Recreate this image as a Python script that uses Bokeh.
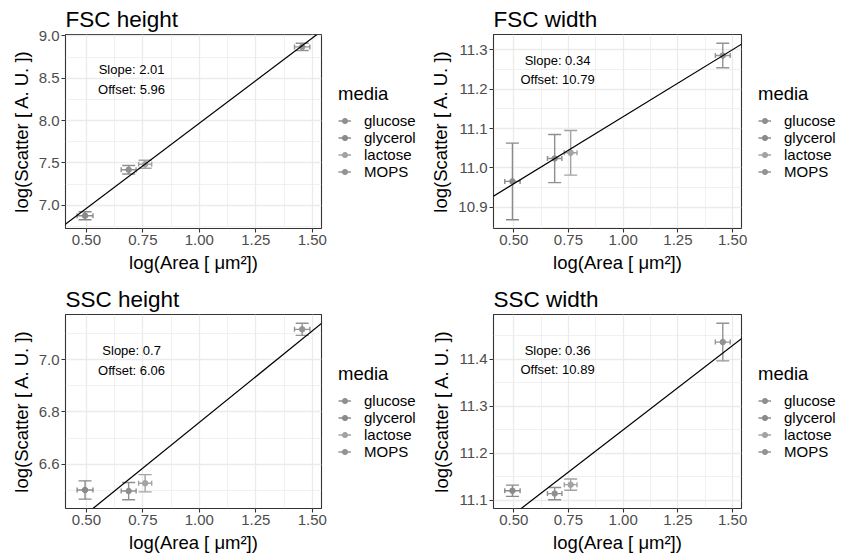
import math
from bokeh.plotting import figure
from bokeh.models import (Range1d, FixedTicker, Slope, Label, Legend, LegendItem,
                          ColumnDataSource, PrintfTickFormatter)
from bokeh.layouts import column, row
from bokeh.embed import file_html
from bokeh.resources import INLINE

FONT = "Liberation Sans"

# ---------------- data ----------------
media = ["glucose", "glycerol", "lactose", "MOPS"]
media_colors = ["#8F8F8F", "#8A8A8A", "#A3A3A3", "#939393"]
point_media = ["glycerol", "glucose", "lactose", "MOPS"]

area = [0.494, 0.687, 0.760, 1.455]
area_err = [0.035, 0.033, 0.029, 0.034]

fsc_h = [6.878, 7.420, 7.485, 8.870]
fsc_h_err = [0.047, 0.050, 0.047, 0.042]
fsc_w = [10.966, 11.024, 11.0385, 11.285]
fsc_w_err = [0.097, 0.061, 0.0565, 0.031]
ssc_h = [6.501, 6.497, 6.527, 7.116]
ssc_h_err = [0.035, 0.033, 0.033, 0.023]
ssc_w = [11.120, 11.114, 11.133, 11.437]
ssc_w_err = [0.012, 0.013, 0.012, 0.040]

titles = ["FSC height", "FSC width", "SSC height", "SSC width"]
slopes = [2.01, 0.34, 0.7, 0.36]
offsets = [5.96, 10.79, 6.06, 10.89]

x_ticks = [0.50, 0.75, 1.00, 1.25, 1.50]
y_ticks = [[7.0, 7.5, 8.0, 8.5, 9.0],
           [10.9, 11.0, 11.1, 11.2, 11.3],
           [6.6, 6.8, 7.0],
           [11.1, 11.2, 11.3, 11.4]]
y_formats = ["%.1f", "%.1f", "%.1f", "%.1f"]

# annotation label y positions (data units) for "Slope" / "Offset" text
slope_label_y = [8.60, 11.272, 7.035, 11.419]
offset_label_y = [8.37, 11.224, 6.959, 11.379]
label_x = 0.70

x_label = "log(Area [ \u03bcm\u00b2])"
y_label = "log(Scatter [ A. U. ])"
legend_title = "media"


def expand(lo, hi, f=0.05):
    d = hi - lo
    return lo - f * d, hi + f * d


def minor_of(ticks, lo, hi):
    step = ticks[1] - ticks[0]
    out = []
    t = ticks[0] - step / 2
    while t <= hi:
        if t >= lo:
            out.append(round(t, 6))
        t += step
    return out


def make_panel(i, yvals, yerr, width, height, left, right, top, bottom):
    xlo, xhi = expand(min(a - e for a, e in zip(area, area_err)),
                      max(a + e for a, e in zip(area, area_err)))
    ylo, yhi = expand(min(v - e for v, e in zip(yvals, yerr)),
                      max(v + e for v, e in zip(yvals, yerr)))
    p = figure(width=width, height=height, output_backend="svg", toolbar_location=None,
               x_range=Range1d(xlo, xhi), y_range=Range1d(ylo, yhi),
               min_border_left=left, min_border_right=right,
               min_border_top=top, min_border_bottom=bottom)
    p.background_fill_color = "white"
    p.border_fill_color = "white"
    p.outline_line_color = "#333333"
    p.outline_line_width = 1.1

    p.title.text = titles[i]
    p.title.text_font = FONT
    p.title.text_font_size = "22.5px"
    p.title.text_font_style = "normal"
    p.title.text_color = "black"
    p.title.standoff = 6

    p.xaxis.ticker = FixedTicker(ticks=x_ticks, minor_ticks=minor_of(x_ticks, xlo, xhi))
    p.yaxis.ticker = FixedTicker(ticks=y_ticks[i], minor_ticks=minor_of(y_ticks[i], ylo, yhi))
    p.xaxis.formatter = PrintfTickFormatter(format="%.2f")
    p.yaxis.formatter = PrintfTickFormatter(format=y_formats[i])
    for ax in (p.xaxis, p.yaxis):
        ax.axis_line_color = None
        ax.major_tick_line_color = "#333333"
        ax.major_tick_line_width = 1.1
        ax.major_tick_out = 4
        ax.major_tick_in = 0
        ax.minor_tick_line_color = None
        ax.major_label_text_font = FONT
        ax.major_label_text_font_size = "15px"
        ax.major_label_text_color = "#4D4D4D"
        ax.major_label_standoff = 2
        ax.axis_label_text_font = FONT
        ax.axis_label_text_font_size = "18.5px"
        ax.axis_label_text_font_style = "normal"
        ax.axis_label_text_color = "black"
        ax.axis_label_standoff = 4
    p.xaxis.axis_label = x_label
    p.yaxis.axis_label = y_label

    for g in (p.xgrid, p.ygrid):
        g.grid_line_color = "#EBEBEB"
        g.grid_line_width = 1.3
        g.minor_grid_line_color = "#EBEBEB"
        g.minor_grid_line_width = 0.7

    cols = [media_colors[media.index(m)] for m in point_media]
    src = ColumnDataSource(dict(
        x=area, y=yvals, c=cols,
        ylo=[v - e for v, e in zip(yvals, yerr)],
        yhi=[v + e for v, e in zip(yvals, yerr)],
        xlo=[a - e for a, e in zip(area, area_err)],
        xhi=[a + e for a, e in zip(area, area_err)],
    ))
    lw = 1.4
    # vertical error bars
    p.segment(x0="x", y0="ylo", x1="x", y1="yhi", source=src, line_color="c", line_width=lw)
    p.scatter(x="x", y="ylo", source=src, marker="dash", size=13, line_color="c", line_width=lw)
    p.scatter(x="x", y="yhi", source=src, marker="dash", size=13, line_color="c", line_width=lw)
    # horizontal error bars
    p.segment(x0="xlo", y0="y", x1="xhi", y1="y", source=src, line_color="c", line_width=lw)
    p.scatter(x="xlo", y="y", source=src, marker="dash", angle=math.pi / 2, size=5,
              line_color="c", line_width=lw)
    p.scatter(x="xhi", y="y", source=src, marker="dash", angle=math.pi / 2, size=5,
              line_color="c", line_width=lw)
    # points
    p.scatter(x="x", y="y", source=src, size=5.5, fill_color="c", line_color="c")

    # fitted line
    p.add_layout(Slope(gradient=slopes[i], y_intercept=offsets[i],
                       line_color="black", line_width=1.2))

    for txt, yy in ((f"Slope: {slopes[i]}", slope_label_y[i]),
                    (f"Offset: {offsets[i]}", offset_label_y[i])):
        p.add_layout(Label(x=label_x, y=yy, text=txt, text_align="center",
                           text_baseline="middle", text_font=FONT,
                           text_font_size="13px", text_color="black"))
    return p


def make_legend_fig(width, height, bottom):
    f = figure(width=width, height=height, output_backend="svg", toolbar_location=None,
               x_range=Range1d(0, 1), y_range=Range1d(0, 1),
               min_border_left=0, min_border_right=0, min_border_top=0,
               min_border_bottom=bottom)
    f.axis.visible = False
    f.grid.visible = False
    f.outline_line_color = None
    f.background_fill_color = "white"
    f.border_fill_color = "white"
    items = []
    for m, c in zip(media, media_colors):
        # key-only renderers: their points lie outside the visible range
        ks = ColumnDataSource(dict(x=[5.0, 6.0], y=[5.0, 6.0]))
        rl = f.line(x="x", y="y", source=ks, line_color=c, line_width=1.4)
        rp = f.scatter(x="x", y="y", source=ks, size=5, fill_color=c, line_color=c)
        items.append(LegendItem(label=m, renderers=[rl, rp]))
    leg = Legend(items=items, title=legend_title, location="center_left",
                 title_text_font=FONT, title_text_font_size="18.5px",
                 title_text_font_style="normal", title_text_color="black",
                 title_standoff=7,
                 label_text_font=FONT, label_text_font_size="15px",
                 label_text_color="black",
                 glyph_width=13, glyph_height=16, label_height=16,
                 label_standoff=13, spacing=0, padding=0, margin=7,
                 border_line_color=None, background_fill_alpha=0)
    f.add_layout(leg)
    return f


p1 = make_panel(0, fsc_h, fsc_h_err, 331, 280, 65, 10, 34, 52)
l1 = make_legend_fig(89, 280, 18)
p2 = make_panel(1, fsc_w, fsc_w_err, 331, 280, 73, 10, 34, 52)
l2 = make_legend_fig(90, 280, 18)
p3 = make_panel(2, ssc_h, ssc_h_err, 331, 279, 65, 10, 34, 51)
l3 = make_legend_fig(89, 279, 17)
p4 = make_panel(3, ssc_w, ssc_w_err, 331, 279, 73, 10, 34, 51)
l4 = make_legend_fig(90, 279, 17)

layout = column(row(p1, l1, p2, l2, spacing=0), row(p3, l3, p4, l4, spacing=0), spacing=0)
open("out.html", "w").write(file_html(layout, INLINE))
